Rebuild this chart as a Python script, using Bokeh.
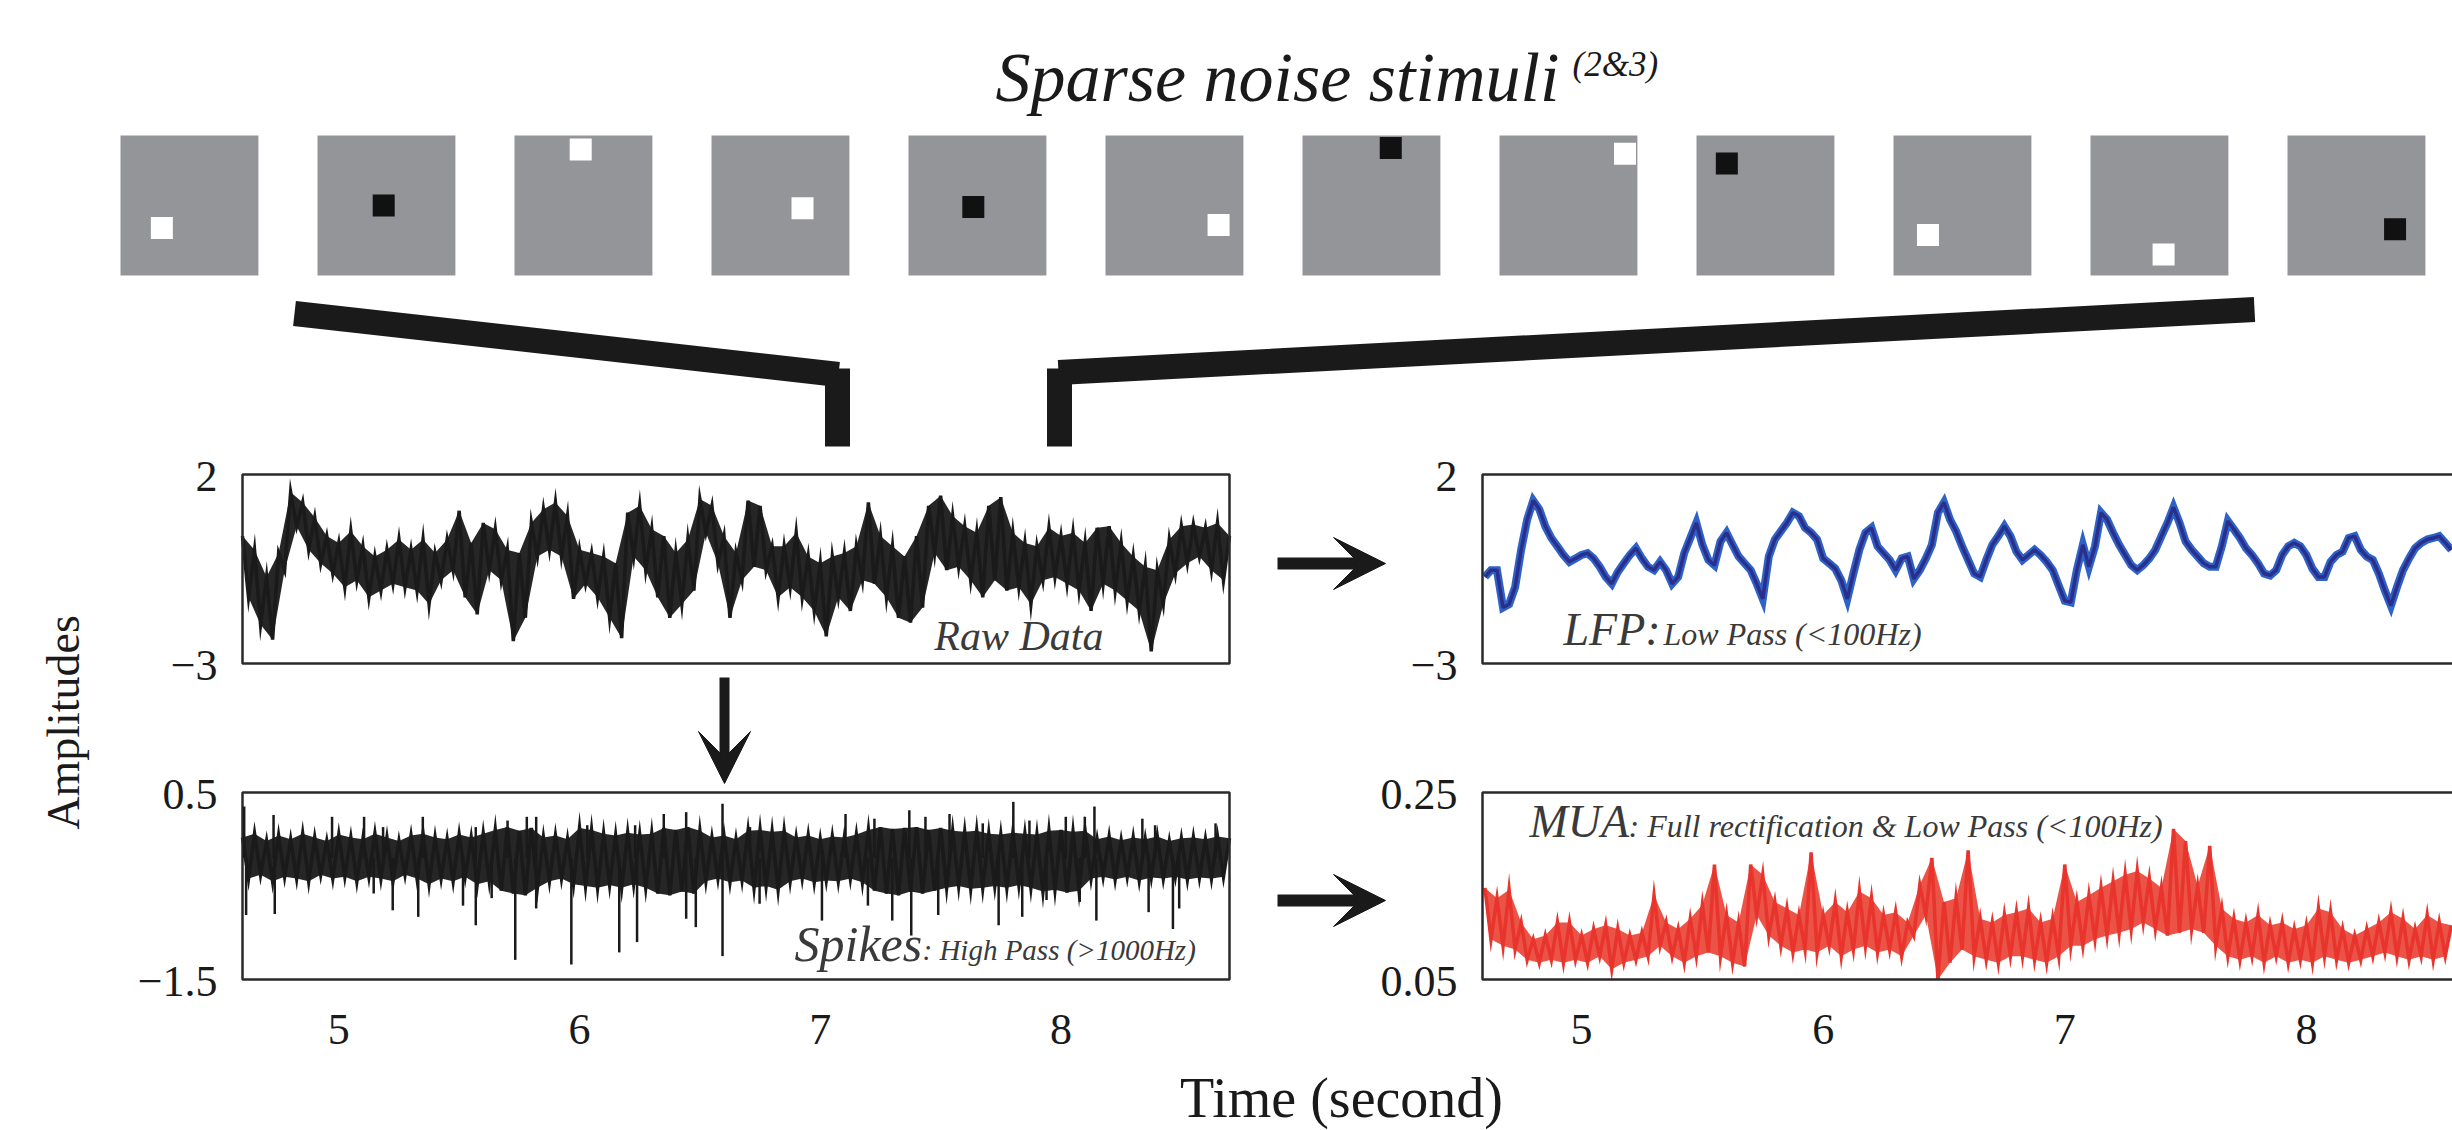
import numpy as np
from math import pi
from bokeh.plotting import figure
from bokeh.models import Range1d, Arrow, VeeHead
from bokeh.core.properties import value
from bokeh.embed import file_html
from bokeh.resources import INLINE

# ---------------- data ----------------
t_start = 4.6          # first sample time (s)
t_step = 0.025         # sample spacing (s)

# Raw data (amplitude): even samples = top of the noisy band, odd = bottom
raw_values = [
    0.37, -1.25, 0.00, -1.97, -0.71, -2.37, -0.08, -0.53, 1.53, 0.63,
    1.26, 0.01, 0.86, -0.35, 0.37, -0.62, 0.19, -0.98, 0.50, -0.80,
    0.10, -1.25, -0.17, -1.07, 0.01, -0.89, 0.28, -0.98, 0.01, -1.07,
    0.28, -1.43, -0.08, -0.80, 0.28, -0.53, 1.04, -1.25, 0.19, -1.70,
    0.72, -0.53, 0.55, -0.80, 0.01, -2.41, -0.08, -1.79, 0.72, -0.17,
    1.08, 0.01, 1.26, -0.17, 0.90, -1.29, 0.01, -0.89, -0.08, -1.25,
    -0.17, -1.79, -0.35, -2.33, 0.99, -0.17, 1.17, -0.53, 0.55, -1.25,
    0.37, -1.79, -0.08, -1.43, 0.28, -1.07, 1.35, 0.46, 1.17, -0.35,
    0.37, -1.79, -0.08, -0.80, 1.31, -0.44, 1.17, -0.53, 0.10, -1.25,
    0.10, -0.98, 0.46, -1.25, -0.17, -1.61, -0.35, -2.28, -0.17, -1.25,
    -0.08, -1.61, 0.10, -0.80, 1.26, -0.89, 0.37, -1.25, 0.10, -1.79,
    -0.17, -1.92, 0.37, -1.52, 1.17, -0.08, 1.44, -0.53, 0.90, -0.44,
    0.63, -0.80, 0.46, -1.25, 1.17, -0.80, 1.40, -1.07, 0.46, -0.98,
    0.19, -1.43, 0.10, -0.80, 0.59, -0.71, 0.37, -0.89, 0.46, -1.07,
    0.19, -1.61, 0.59, -0.89, 0.63, -1.07, 0.19, -1.34, -0.17, -1.61,
    -0.44, -2.68, -0.53, -1.43, 0.28, -0.62, 0.63, -0.35, 0.68, -0.17,
    0.59, -0.53, 0.72, -0.80, 0.37]

# LFP (low pass)
lfp_values = [
    -0.71, -0.53, -0.53, -1.52, -1.43, -0.98, 0.01, 0.81, 1.31, 1.08,
    0.63, 0.32, 0.10, -0.13, -0.31, -0.22, -0.13, -0.08, -0.22, -0.44,
    -0.71, -0.89, -0.58, -0.35, -0.13, 0.05, -0.22, -0.44, -0.53, -0.31,
    -0.53, -0.89, -0.71, -0.08, 0.32, 0.72, 0.14, -0.26, -0.40, 0.23,
    0.46, 0.14, -0.17, -0.35, -0.53, -0.89, -1.29, -0.17, 0.28, 0.50,
    0.72, 0.99, 0.90, 0.59, 0.46, 0.28, -0.22, -0.35, -0.49, -0.80,
    -1.29, -0.62, 0.01, 0.46, 0.59, 0.10, -0.08, -0.26, -0.53, -0.22,
    -0.17, -0.76, -0.53, -0.22, 0.14, 0.99, 1.26, 0.81, 0.50, 0.10,
    -0.26, -0.62, -0.71, -0.26, 0.14, 0.37, 0.63, 0.37, -0.04, -0.26,
    -0.13, 0.01, -0.13, -0.31, -0.53, -0.94, -1.34, -1.38, -0.53, 0.14,
    -0.44, 0.10, 0.99, 0.81, 0.46, 0.14, -0.13, -0.40, -0.53, -0.40,
    -0.22, 0.01, 0.37, 0.72, 1.13, 0.72, 0.23, 0.01, -0.17, -0.35,
    -0.44, -0.44, 0.10, 0.77, 0.55, 0.32, 0.05, -0.13, -0.35, -0.62,
    -0.67, -0.53, -0.13, 0.10, 0.19, 0.10, -0.13, -0.49, -0.71, -0.71,
    -0.31, -0.13, -0.04, 0.32, 0.37, 0.01, -0.17, -0.26, -0.62, -1.07,
    -1.47, -0.98, -0.53, -0.22, 0.05, 0.19, 0.28, 0.32, 0.37, 0.19,
    0.01]

# Spikes (high pass) band: even samples = top of band, odd = bottom
spk_values = [
    0.02, -0.42, 0.06, -0.38, -0.02, -0.45, 0.04, -0.40, 0.00, -0.42,
    0.06, -0.45, 0.02, -0.38, -0.02, -0.42, 0.05, -0.40, 0.02, -0.45,
    0.00, -0.40, 0.06, -0.42, 0.02, -0.45, -0.02, -0.38, 0.04, -0.42,
    0.06, -0.48, 0.02, -0.42, 0.00, -0.45, 0.05, -0.40, 0.02, -0.48,
    0.06, -0.45, 0.10, -0.55, 0.13, -0.58, 0.09, -0.60, 0.12, -0.52,
    0.02, -0.45, 0.04, -0.42, 0.00, -0.48, 0.12, -0.50, 0.10, -0.52,
    0.06, -0.49, 0.04, -0.52, 0.07, -0.48, 0.05, -0.52, 0.06, -0.58,
    0.12, -0.60, 0.10, -0.56, 0.13, -0.58, 0.09, -0.45, 0.02, -0.42,
    0.04, -0.46, 0.00, -0.44, 0.09, -0.52, 0.10, -0.50, 0.08, -0.54,
    0.09, -0.45, 0.02, -0.42, 0.04, -0.46, 0.00, -0.44, 0.03, -0.45,
    0.02, -0.42, 0.05, -0.46, 0.10, -0.55, 0.13, -0.58, 0.11, -0.60,
    0.12, -0.56, 0.13, -0.58, 0.10, -0.55, 0.12, -0.52, 0.09, -0.50,
    0.08, -0.53, 0.09, -0.52, 0.06, -0.50, 0.05, -0.52, 0.07, -0.49,
    0.06, -0.52, 0.05, -0.56, 0.09, -0.54, 0.10, -0.57, 0.08, -0.55,
    0.09, -0.42, 0.00, -0.40, 0.03, -0.43, -0.01, -0.40, 0.02, -0.44,
    0.00, -0.41, 0.03, -0.42, -0.02, -0.40, 0.01, -0.43, 0.02, -0.41,
    0.00, -0.42, 0.03, -0.40, 0.01]
spk_base = -0.20       # centre of the spike band
spk_up_t = [4.607, 4.729, 4.972, 5.105, 5.184, 5.349, 5.569, 5.701, 5.781, 5.820,
            6.032, 6.231, 6.350, 6.443, 6.594, 6.708, 7.105, 7.225, 7.370, 7.437,
            7.537, 7.675, 7.802, 7.869, 8.020, 8.099, 8.139, 8.338, 8.391, 8.642]
spk_up_v = [0.35, 0.26, 0.24, 0.24, 0.13, 0.24, 0.13, 0.20, 0.24, 0.24,
            0.15, 0.15, 0.27, 0.29, 0.38, 0.13, 0.27, 0.22, 0.31, 0.24,
            0.27, 0.17, 0.40, 0.20, 0.24, 0.24, 0.35, 0.22, 0.15, 0.17]
spk_dn_t = [4.615, 4.734, 5.145, 5.224, 5.330, 5.516, 5.569, 5.635, 5.733, 5.820,
            5.966, 6.165, 6.239, 6.443, 6.483, 6.594, 6.748, 7.007, 7.198, 7.299,
            7.378, 7.490, 7.741, 7.839, 7.940, 8.078, 8.147, 8.364, 8.465, 8.491]
spk_dn_v = [-0.81, -0.80, -0.58, -0.76, -0.83, -0.71, -0.92, -0.63, -1.29, -0.74,
            -1.34, -1.21, -1.10, -0.85, -0.94, -1.25, -0.69, -0.87, -0.71, -0.87,
            -1.03, -0.81, -0.92, -0.83, -0.65, -0.67, -0.87, -0.78, -0.96, -0.74]

# MUA (rectified + low pass): even samples = top of band, odd = bottom
mua_values = [
    0.148, 0.093, 0.137, 0.086, 0.146, 0.082, 0.111, 0.071, 0.093, 0.068,
    0.097, 0.071, 0.111, 0.068, 0.111, 0.071, 0.097, 0.068, 0.104, 0.075,
    0.108, 0.061, 0.104, 0.068, 0.097, 0.071, 0.100, 0.075, 0.140, 0.086,
    0.111, 0.075, 0.104, 0.068, 0.115, 0.075, 0.130, 0.079, 0.173, 0.075,
    0.119, 0.068, 0.111, 0.064, 0.173, 0.119, 0.162, 0.097, 0.133, 0.086,
    0.126, 0.079, 0.119, 0.082, 0.186, 0.079, 0.119, 0.086, 0.133, 0.075,
    0.122, 0.082, 0.144, 0.086, 0.137, 0.079, 0.119, 0.082, 0.122, 0.075,
    0.111, 0.097, 0.151, 0.119, 0.180, 0.050, 0.133, 0.068, 0.137, 0.082,
    0.188, 0.075, 0.115, 0.071, 0.111, 0.068, 0.119, 0.075, 0.122, 0.075,
    0.126, 0.071, 0.111, 0.068, 0.115, 0.075, 0.173, 0.086, 0.133, 0.086,
    0.140, 0.093, 0.148, 0.097, 0.155, 0.100, 0.162, 0.104, 0.166, 0.111,
    0.158, 0.104, 0.148, 0.097, 0.211, 0.100, 0.198, 0.104, 0.150, 0.100,
    0.193, 0.086, 0.126, 0.075, 0.115, 0.071, 0.111, 0.075, 0.119, 0.068,
    0.108, 0.075, 0.111, 0.068, 0.104, 0.071, 0.108, 0.068, 0.126, 0.075,
    0.122, 0.071, 0.104, 0.068, 0.097, 0.071, 0.104, 0.075, 0.111, 0.079,
    0.122, 0.075, 0.115, 0.071, 0.104, 0.075, 0.119, 0.071, 0.111, 0.075,
    0.108]

x_ticks = [5, 6, 7, 8]
x_tick_labels = ["5", "6", "7", "8"]

# Sparse-noise stimuli: dot position inside each frame (fractions) and colour
stim_dot_fx = [0.30, 0.48, 0.48, 0.66, 0.47, 0.82, 0.64, 0.91, 0.22, 0.25, 0.53, 0.78]
stim_dot_fy = [0.66, 0.50, 0.10, 0.52, 0.51, 0.64, 0.09, 0.13, 0.20, 0.71, 0.85, 0.67]
stim_dot_color = ["white", "#111111", "white", "white", "#111111", "white",
                  "#111111", "white", "#111111", "white", "white", "#111111"]

# ---------------- figure ----------------
W, H = 2452, 1130
FONT = value("Liberation Serif")
INK = "#1a1a1a"
GREY = "#3a3a3a"
BASE_FIX = 0.3   # renderer places alphabetic baseline ~0.3em low; compensate


def txt(x, y, s, size, italic=False, align="left", color=INK):
    p.text(x=[x], y=[y - BASE_FIX * size], text=[s], text_font=FONT,
           text_font_style="italic" if italic else "normal",
           text_font_size=value(f"{size}px"), text_color=color,
           text_align=align, text_baseline="alphabetic")


p = figure(width=W, height=H, x_range=Range1d(0, W), y_range=Range1d(H, 0),
           output_backend="svg", toolbar_location=None, min_border=0,
           x_axis_location=None, y_axis_location=None, outline_line_color=None)
p.xgrid.visible = False
p.ygrid.visible = False
p.background_fill_color = "white"
p.border_fill_color = "white"

# title
txt(995, 98, "Sparse noise stimuli", 70, italic=True)
txt(1572, 74, "(2&3)", 35, italic=True)

# stimuli row
stim = p.subplot(x_source=Range1d(0, 12), y_source=Range1d(0, 1),
                 x_target=Range1d(120, 2484), y_target=Range1d(135, 275))
idx = np.arange(12)
stim.quad(left=idx, right=idx + 0.70, top=0, bottom=1,
          fill_color="#939598", line_color=None)
stim.rect(x=idx + 0.70 * np.array(stim_dot_fx), y=stim_dot_fy, width=22, height=22,
          width_units="screen", height_units="screen",
          fill_color=stim_dot_color, line_color=None)

# connector brackets
p.line([294, 838], [313, 374], line_width=25, line_color=INK, line_cap="butt")
p.line([837, 837], [368, 446], line_width=25, line_color=INK, line_cap="butt")
p.line([1058, 2254], [372, 309], line_width=25, line_color=INK, line_cap="butt")
p.line([1059, 1059], [368, 446], line_width=25, line_color=INK, line_cap="butt")

# panels
panels = [
    dict(vals=raw_values, xsrc=(4.6, 8.7), xt=(242, 1229), ysrc=(-3, 2), yt=(663, 474),
         color=INK, fill=INK, lw=3.5, ylab=["2", "\u22123"], xlab=False),
    dict(vals=lfp_values, xsrc=(4.59, 8.7), xt=(1482, 2475), ysrc=(-3, 2), yt=(663, 474),
         color="#2f62c6", fill=None, lw=8, ylab=["2", "\u22123"], xlab=False),
    dict(vals=spk_values, xsrc=(4.6, 8.7), xt=(242, 1229), ysrc=(-1.5, 0.5), yt=(979, 792),
         color=INK, fill=INK, lw=3.5, ylab=["0.5", "\u22121.5"], xlab=True),
    dict(vals=mua_values, xsrc=(4.59, 8.7), xt=(1482, 2475), ysrc=(0.05, 0.25), yt=(979, 792),
         color="#e8342c", fill="#ea4a3c", lw=3.5, ylab=["0.25", "0.05"], xlab=True),
]
subs = []
for pn in panels:
    sub = p.subplot(x_source=Range1d(*pn["xsrc"]), y_source=Range1d(*pn["ysrc"]),
                    x_target=Range1d(*pn["xt"]), y_target=Range1d(*pn["yt"]))
    subs.append(sub)
    vals = np.array(pn["vals"])
    t = t_start + t_step * np.arange(len(vals))
    if pn["fill"] is not None:
        # solid band: outline = band tops left->right, then band bottoms right->left
        bx = np.concatenate([t[0::2], t[1::2][::-1]])
        by = np.concatenate([vals[0::2], vals[1::2][::-1]])
        sub.patch(bx, by, fill_color=pn["fill"], fill_alpha=0.95, line_color=None)
    sub.line(t, vals, line_color=pn["color"], line_width=pn["lw"], line_join="miter")
    sub.quad(left=[pn["xsrc"][0]], right=[pn["xsrc"][1]], bottom=[pn["ysrc"][0]],
             top=[pn["ysrc"][1]], fill_color=None, line_color="#2a2a2a", line_width=2.5)
    sub.text(x=[pn["xsrc"][0]] * 2, y=[pn["ysrc"][1], pn["ysrc"][0]], text=pn["ylab"],
             x_offset=-25, y_offset=2, text_align="right", text_baseline="alphabetic",
             text_font=FONT, text_font_size=value("44px"), text_color=INK)
    if pn["xlab"]:
        sub.text(x=x_ticks, y=[pn["ysrc"][0]] * 4, text=x_tick_labels, y_offset=50,
                 text_align="center", text_baseline="alphabetic",
                 text_font=FONT, text_font_size=value("44px"), text_color=INK)

# LFP inner darker core
t_lfp = t_start + t_step * np.arange(len(lfp_values))
subs[1].line(t_lfp, lfp_values, line_color="#2b2f8c", line_width=3.5)

# spike events on the high-pass trace
subs[2].segment(x0=spk_up_t, y0=[spk_base] * len(spk_up_t), x1=spk_up_t, y1=spk_up_v,
                line_color=INK, line_width=2.5)
subs[2].segment(x0=spk_dn_t, y0=[spk_base] * len(spk_dn_t), x1=spk_dn_t, y1=spk_dn_v,
                line_color=INK, line_width=2.5)

# panel captions
txt(1103, 648, "Raw Data", 42, italic=True, align="right", color=GREY)
txt(1563, 643, "LFP:", 46, italic=True, color=GREY)
txt(1663, 643, "Low Pass (<100Hz)", 32, italic=True, color=GREY)
txt(794, 958, "Spikes", 50, italic=True, color=GREY)
txt(922, 958, ": High Pass (>1000Hz)", 29, italic=True, color=GREY)
txt(1529, 835, "MUA", 46, italic=True, color=GREY)
txt(1628, 835, ": Full rectification & Low Pass (<100Hz)", 32, italic=True, color=GREY)

# axis titles
p.text(x=[63], y=[722], text=["Amplitudes"], angle=pi / 2, text_align="center",
       text_baseline="middle", text_font=FONT, text_font_size=value("46px"), text_color=INK)
txt(1341, 1114, "Time (second)", 56, align="center")

# arrows
for (xs, ys, xe, ye, lw) in [(1277, 563, 1385, 563, 12), (1277, 900, 1385, 900, 12),
                             (724, 677, 724, 783, 10)]:
    p.add_layout(Arrow(end=VeeHead(size=52, fill_color=INK, line_color=INK, line_width=1),
                       x_start=xs, y_start=ys, x_end=xe, y_end=ye,
                       line_width=lw, line_color=INK))

open("out.html", "w").write(file_html(p, INLINE))
